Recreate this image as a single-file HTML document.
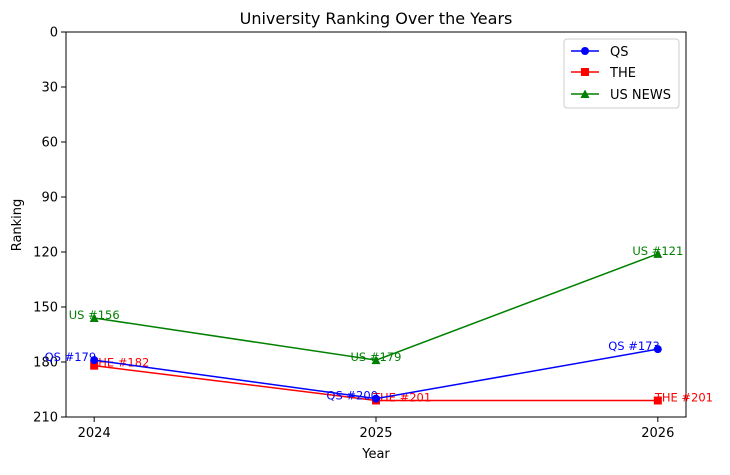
<!DOCTYPE html>
<html><head><meta charset="utf-8"><style>
body{margin:0;background:#fff;font-family:"Liberation Sans","DejaVu Sans",sans-serif;}
text{font-family:"DejaVu Sans","Liberation Sans",sans-serif;}
</style></head><body>
<svg id="chart" width="730" height="470" xmlns="http://www.w3.org/2000/svg">
<rect width="730" height="470" fill="#fff"/>
<text x="376" y="24" text-anchor="middle" font-size="16">University Ranking Over the Years</text>
<g id="grid"></g>
<rect x="66" y="32" width="620" height="385" fill="none" stroke="#000" stroke-width="1"/>
<text x="376" y="458" text-anchor="middle" font-size="13">Year</text>
<text transform="translate(21,225) rotate(-90)" text-anchor="middle" font-size="13">Ranking</text>
<g id="series"></g>
<g>
<rect x="564" y="39" width="115" height="69" rx="3" fill="#fff" stroke="#ccc"/>
<line x1="571" y1="51" x2="599" y2="51" stroke="blue" stroke-width="1.5"/><circle cx="585" cy="51" r="4" fill="blue"/>
<text x="610" y="56" font-size="13">QS</text>
<line x1="571" y1="72" x2="599" y2="72" stroke="red" stroke-width="1.5"/><rect x="581" y="68" width="8" height="8" fill="red"/>
<text x="610" y="77" font-size="13">THE</text>
<line x1="571" y1="94" x2="599" y2="94" stroke="green" stroke-width="1.5"/><polygon points="585,89.5 589.5,98 580.5,98" fill="green"/>
<text x="610" y="99" font-size="13">US NEWS</text>
</g>
</svg>
<script>
const years = [2024, 2025, 2026];
const qsRanks = [179, 200, 173];
const theRanks = [182, 201, 201];
const usRanks = [156, 179, 121];
const yTicks = [0, 30, 60, 90, 120, 150, 180, 210];
const NS = "http://www.w3.org/2000/svg";
const x = v => 66 + (v - 2023.9) / 2.2 * 620;
const y = v => 32 + v / 210 * 385;
const grid = document.getElementById('grid');
const series = document.getElementById('series');
function mk(tag, attrs, parent){const e=document.createElementNS(NS,tag);for(const k in attrs)e.setAttribute(k,attrs[k]);parent.appendChild(e);return e;}
yTicks.forEach(t=>{
  const l=mk('line',{x1:61,x2:66,y1:y(t),y2:y(t),stroke:'#000'},grid);
  
  
  const tx=mk('text',{x:58,y:y(t)+4.5,'text-anchor':'end','font-size':13},grid);
  
  
  tx.textContent=t;
});
years.forEach(v=>{
  const l=mk('line',{x1:x(v),x2:x(v),y1:417,y2:422,stroke:'#000'},grid);
  
  
  const tx=mk('text',{x:x(v),y:437,'text-anchor':'middle','font-size':13},grid);
  
  
  tx.textContent=v;
});
function draw(vals,color,marker,prefix,anchor,dx,name){
  const pl=mk('polyline',{points:vals.map((v,i)=>x(years[i])+','+y(v)).join(' '),fill:'none',stroke:color,'stroke-width':1.5},series);
  
  
  vals.forEach((v,i)=>{
    const cx=x(years[i]),cy=y(v);let m;
    if(marker==='o')m=mk('circle',{cx:cx,cy:cy,r:4,fill:color},series);
    else if(marker==='s')m=mk('rect',{x:cx-4,y:cy-4,width:8,height:8,fill:color},series);
    else m=mk('polygon',{points:`${cx},${cy-4.5} ${cx+4.5},${cy+4} ${cx-4.5},${cy+4}`,fill:color},series);
    
    
    const t=mk('text',{x:cx+dx,y:cy+1,'text-anchor':anchor,'font-size':11.5,fill:color},series);
    
    
    t.textContent=prefix+' #'+v;
  });
}
draw(usRanks,'green','^','US','middle',0,'us-news');
draw(theRanks,'red','s','THE','start',-3,'the');
draw(qsRanks,'blue','o','QS','end',2,'qs');
</script>
</body></html>
